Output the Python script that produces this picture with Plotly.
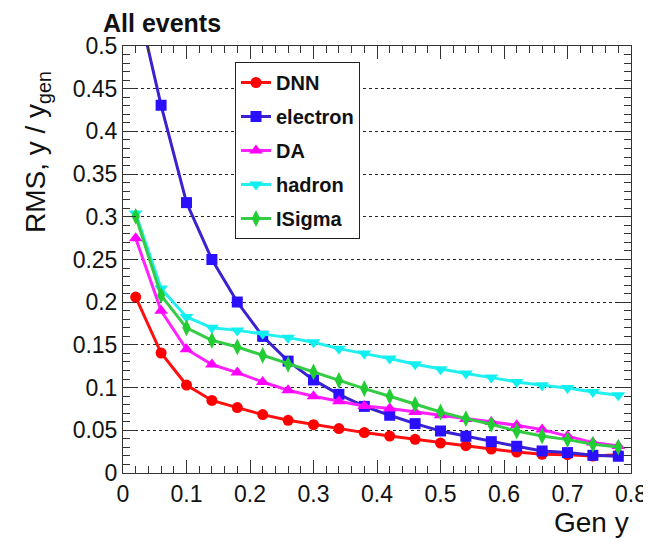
import plotly.graph_objects as go

gen_y = [0.02, 0.06, 0.10, 0.14, 0.18, 0.22, 0.26, 0.30, 0.34, 0.38,
         0.42, 0.46, 0.50, 0.54, 0.58, 0.62, 0.66, 0.70, 0.74, 0.78]

dnn = [0.206, 0.1405, 0.103, 0.085, 0.0766, 0.0684, 0.0617, 0.0566, 0.052, 0.0473,
       0.0433, 0.0395, 0.0351, 0.032, 0.028, 0.0246, 0.0219, 0.0215, 0.0199, 0.0215]
electron = [0.56, 0.4306, 0.3166, 0.250, 0.2002, 0.160, 0.131, 0.109, 0.0921, 0.078,
            0.0676, 0.0578, 0.0492, 0.043, 0.0367, 0.0313, 0.0258, 0.0239, 0.0207, 0.0196]
da = [0.275, 0.19, 0.1449, 0.127, 0.1176, 0.1066, 0.0969, 0.0898, 0.084, 0.0785,
      0.0754, 0.0714, 0.0676, 0.0633, 0.0598, 0.0559, 0.0508, 0.0433, 0.0356, 0.0316]
hadron = [0.304, 0.216, 0.1827, 0.170, 0.167, 0.163, 0.1585, 0.153, 0.1456, 0.1398,
          0.134, 0.1273, 0.1214, 0.1164, 0.1117, 0.1066, 0.1027, 0.0996, 0.0949, 0.091]
isigma = [0.3006, 0.208, 0.170, 0.1554, 0.1476, 0.1378, 0.1273, 0.1183, 0.1085, 0.0988,
          0.0898, 0.0804, 0.0714, 0.0637, 0.057, 0.0492, 0.0433, 0.0391, 0.0336, 0.0304]

names = ["DNN", "electron", "DA", "hadron", "ISigma"]
series = [dnn, electron, da, hadron, isigma]
x_ticks = [0, 0.1, 0.2, 0.3, 0.4, 0.5, 0.6, 0.7, 0.8]
x_labels = ["0", "0.1", "0.2", "0.3", "0.4", "0.5", "0.6", "0.7", "0.8"]
y_ticks = [0, 0.05, 0.1, 0.15, 0.2, 0.25, 0.3, 0.35, 0.4, 0.45, 0.5]
y_labels = ["0", "0.05", "0.1", "0.15", "0.2", "0.25", "0.3", "0.35", "0.4", "0.45", "0.5"]

line_colors = ["#ff1010", "#3a22d0", "#ff22ff", "#22f0f0", "#33cc44"]
marker_colors = ["#ff0000", "#2a10ff", "#ff00ff", "#10f0f0", "#22cc33"]
symbols = ["circle", "square", "triangle-up", "triangle-down", "diamond-tall"]
sizes = [11, 11, 12, 12, 12]

FONT = "Liberation Sans, Arial, Helvetica, sans-serif"

# the page body keeps its default 8px margin: the figure starts at (8, 8)
# in the 651x547 window and reaches its right edge
OFF = 8
W, H = 651 - OFF, 547 - 2 * OFF
L, R, T, B = 123 - OFF, 651 - 631, 46 - OFF, 547 - OFF - 473
PW, PH = W - L - R, H - T - B

fig = go.Figure()
for n, s, lc, mc, sym, sz in zip(names, series, line_colors, marker_colors, symbols, sizes):
    fig.add_trace(go.Scatter(
        x=gen_y, y=s, name=n, mode="lines+markers", legendgroup=n,
        line=dict(color=lc, width=3),
        marker=dict(color=mc, symbol=sym, size=sz, line=dict(width=0)),
        cliponaxis=True,
    ))

axis_common = dict(
    showline=True, linecolor="#333333", linewidth=1, mirror="ticks",
    ticks="inside", tickcolor="#333333", ticklen=13, tickwidth=1,
    zeroline=False, automargin=False, ticklabeloverflow="allow",
    tickfont=dict(family=FONT, size=23, color="#111111"),
)

fig.update_xaxes(
    range=[0, 0.8], showgrid=False,
    tickvals=x_ticks, ticktext=x_labels,
    minor=dict(ticks="inside", ticklen=7, dtick=0.02, tick0=0, tickcolor="#333333", showgrid=False),
    **axis_common,
)
fig.update_yaxes(
    range=[0, 0.5],
    tickvals=y_ticks, ticktext=y_labels,
    showgrid=True, gridcolor="#222222", gridwidth=1, griddash="dot",
    minor=dict(ticks="inside", ticklen=7, dtick=0.01, tick0=0, tickcolor="#333333", showgrid=False),
    **axis_common,
)

fig.update_layout(
    width=W, height=H, autosize=False,
    margin=dict(l=L, r=R, t=T, b=B, pad=0),
    paper_bgcolor="white", plot_bgcolor="white",
    title=dict(text="<b>All events</b>", x=(103 - OFF) / W, xanchor="left", xref="container",
               y=1 - 6 / H, yanchor="top", pad=dict(t=0, b=0, l=0, r=0),
               font=dict(family=FONT, size=25, color="#111111")),
    showlegend=True,
    legend=dict(
        x=(235 - OFF - L) / PW, y=(PH - (62 - OFF - T)) / PH, xanchor="left", yanchor="top",
        bgcolor="white", bordercolor="#222222", borderwidth=1,
        font=dict(family=FONT, size=20, color="#111111", weight="bold"),
        itemwidth=30, tracegroupgap=5, traceorder="grouped",
    ),
    annotations=[
        dict(text="Gen y", xref="paper", yref="paper", x=1.0, y=-32 / PH,
             xanchor="right", yanchor="top", showarrow=False,
             font=dict(family=FONT, size=28, color="#111111")),
        dict(text="RMS, y / y<sub>gen</sub>", xref="paper", yref="paper",
             x=-(L - (38 - OFF)) / PW, y=1 - 23 / PH, xanchor="center", yanchor="top",
             textangle=-90, showarrow=False,
             font=dict(family=FONT, size=28, color="#111111")),
    ],
)

fig.write_html("out.html")
